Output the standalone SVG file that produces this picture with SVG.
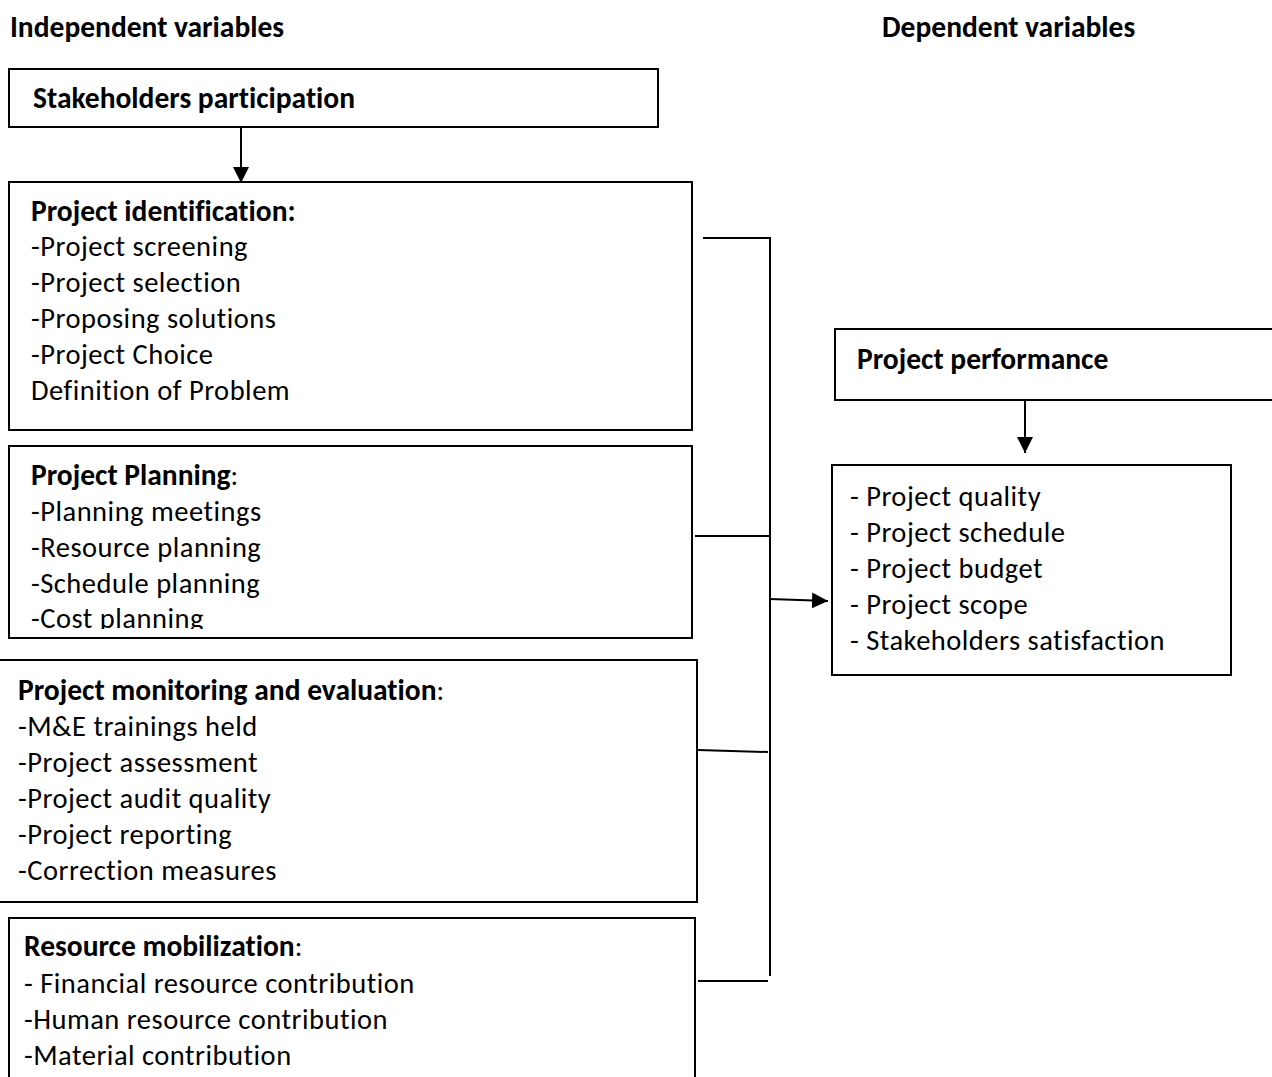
<svg xmlns="http://www.w3.org/2000/svg" width="1272" height="1077" viewBox="0 0 1272 1077">
<style>
.box{fill:#fff;stroke:#000;stroke-width:2}
.t{font-family:Carlito,Lato,"Liberation Sans",sans-serif;font-size:28.5px;letter-spacing:0.5px;fill:#000;font-variant-ligatures:none}
.b{font-weight:bold;font-size:29.5px;letter-spacing:0}
.ln{fill:none;stroke:#000;stroke-width:2}
</style>
<defs>
<marker id="ah2" viewBox="0 0 10 10" refX="10" refY="5" markerWidth="8" markerHeight="8" orient="auto">
<path d="M0,0 L10,5 L0,10 Z" fill="#000"/>
</marker>
<clipPath id="clipPlan"><rect x="0" y="446" width="700" height="183"/></clipPath>
</defs>
<rect width="1272" height="1077" fill="#fff"/>

<g id="headers">
<text class="t b" x="10" y="37">Independent variables</text>
<text class="t b" x="882" y="37">Dependent variables</text>
</g>

<g id="stakeholders">
<rect class="box" x="9" y="69" width="649" height="58"/>
<text class="t b" x="33" y="108">Stakeholders participation</text>
</g>

<g id="identification">
<rect class="box" x="9" y="182" width="683" height="248"/>
<text class="t b" x="31" y="221">Project identification:</text>
<text class="t" x="31" y="256">-Project screening</text>
<text class="t" x="31" y="292">-Project selection</text>
<text class="t" x="31" y="328">-Proposing solutions</text>
<text class="t" x="31" y="364">-Project Choice</text>
<text class="t" x="31" y="400">Definition of Problem</text>
</g>

<g id="planning">
<rect class="box" x="9" y="446" width="683" height="192"/>
<g clip-path="url(#clipPlan)">
<text class="t" x="31" y="485"><tspan class="b">Project Planning</tspan>:</text>
<text class="t" x="31" y="521">-Planning meetings</text>
<text class="t" x="31" y="557">-Resource planning</text>
<text class="t" x="31" y="593">-Schedule planning</text>
<text class="t" x="31" y="628">-Cost planning</text>
</g>
</g>

<g id="monitoring">
<rect class="box" x="-2" y="660" width="699" height="242"/>
<text class="t" x="18" y="700"><tspan class="b">Project monitoring and evaluation</tspan>:</text>
<text class="t" x="18" y="736">-M&amp;E trainings held</text>
<text class="t" x="18" y="772">-Project assessment</text>
<text class="t" x="18" y="808">-Project audit quality</text>
<text class="t" x="18" y="844">-Project reporting</text>
<text class="t" x="18" y="880">-Correction measures</text>
</g>

<g id="resources">
<rect class="box" x="9" y="918" width="686" height="170"/>
<text class="t" x="24" y="956"><tspan class="b">Resource mobilization</tspan>:</text>
<text class="t" x="24" y="993">- Financial resource contribution</text>
<text class="t" x="24" y="1029">-Human resource contribution</text>
<text class="t" x="24" y="1065">-Material contribution</text>
</g>

<g id="performance">
<rect class="box" x="835" y="329" width="450" height="71"/>
<text class="t b" x="857" y="369">Project performance</text>
</g>

<g id="indicators">
<rect class="box" x="832" y="465" width="399" height="210"/>
<text class="t" x="850" y="506">- Project quality</text>
<text class="t" x="850" y="542">- Project schedule</text>
<text class="t" x="850" y="578">- Project budget</text>
<text class="t" x="850" y="614">- Project scope</text>
<text class="t" x="850" y="650">- Stakeholders satisfaction</text>
</g>

<g id="connectors">
<line class="ln" x1="241" y1="127" x2="241" y2="183" marker-end="url(#ah2)"/>
<line class="ln" x1="1025" y1="400" x2="1025" y2="453" marker-end="url(#ah2)"/>
<polyline class="ln" points="703,238 770,238 770,976"/>
<line class="ln" x1="695" y1="536" x2="770" y2="536"/>
<line class="ln" x1="698" y1="750" x2="768" y2="752"/>
<line class="ln" x1="698" y1="981" x2="768" y2="981"/>
<line class="ln" x1="770" y1="599" x2="828" y2="601" marker-end="url(#ah2)"/>
</g>
</svg>
